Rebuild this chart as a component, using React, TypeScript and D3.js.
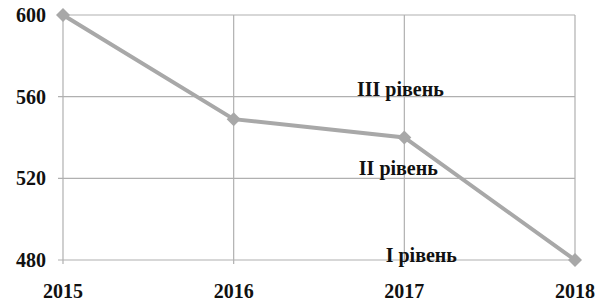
import * as d3 from "d3";

const years = ["2015", "2016", "2017", "2018"];
const values = [600, 549, 540, 480];
const yTicks = [480, 520, 560, 600];
const levelLabels = ["III рівень", "II рівень", "I рівень"];
const levelValues = [564, 525, 482.5];
const levelX = ["2017", "2017", "2017"];

export default function App() {
  const width = 605;
  const height = 302;
  const left = 63;
  const right = 575;
  const top = 15;
  const bottom = 260;

  const x = d3.scalePoint<string>().domain(years).range([left, right]);
  const y = d3.scaleLinear().domain([480, 600]).range([bottom, top]);

  const line = d3
    .line<number>()
    .x((_, i) => x(years[i]) ?? 0)
    .y((d) => y(d));

  const offsets = [-4, -6, 17];

  return (
    <svg
      width={width}
      height={height}
      style={{
        position: "absolute",
        left: 0,
        top: 0,
        background: "#fff",
        fontFamily: "'Times New Roman', 'Liberation Serif', serif",
        fontWeight: 700,
      }}
    >
      {/* grid */}
      {yTicks.map((t) => (
        <line key={t} x1={left - 5} x2={right} y1={y(t)} y2={y(t)} stroke="#b0b0b0" strokeWidth={1.2} />
      ))}
      {years.map((yr) => (
        <line key={yr} x1={x(yr)} x2={x(yr)} y1={top} y2={bottom + 4} stroke="#b0b0b0" strokeWidth={1.2} />
      ))}

      {/* series */}
      <path d={line(values) ?? ""} fill="none" stroke="#a8a8a8" strokeWidth={4} />
      {values.map((v, i) => {
        const cx = x(years[i]) ?? 0;
        const cy = y(v);
        return (
          <path
            key={i}
            d={`M${cx},${cy - 7}L${cx + 7},${cy}L${cx},${cy + 7}L${cx - 7},${cy}Z`}
            fill="#a8a8a8"
          />
        );
      })}

      {/* y axis labels */}
      {yTicks.map((t) => (
        <text key={t} x={46} y={y(t)} dy="0.35em" textAnchor="end" fontSize={20} fill="#111">
          {t}
        </text>
      ))}

      {/* x axis labels */}
      {years.map((yr) => (
        <text key={yr} x={x(yr)} y={291} dy="0.35em" textAnchor="middle" fontSize={20} fill="#111">
          {yr}
        </text>
      ))}

      {/* level annotations */}
      {levelLabels.map((l, i) => (
        <text
          key={l}
          x={(x(levelX[i]) ?? 0) + offsets[i]}
          y={y(levelValues[i])}
          dy="0.35em"
          textAnchor="middle"
          fontSize={20}
          fill="#111"
        >
          {l}
        </text>
      ))}
    </svg>
  );
}
